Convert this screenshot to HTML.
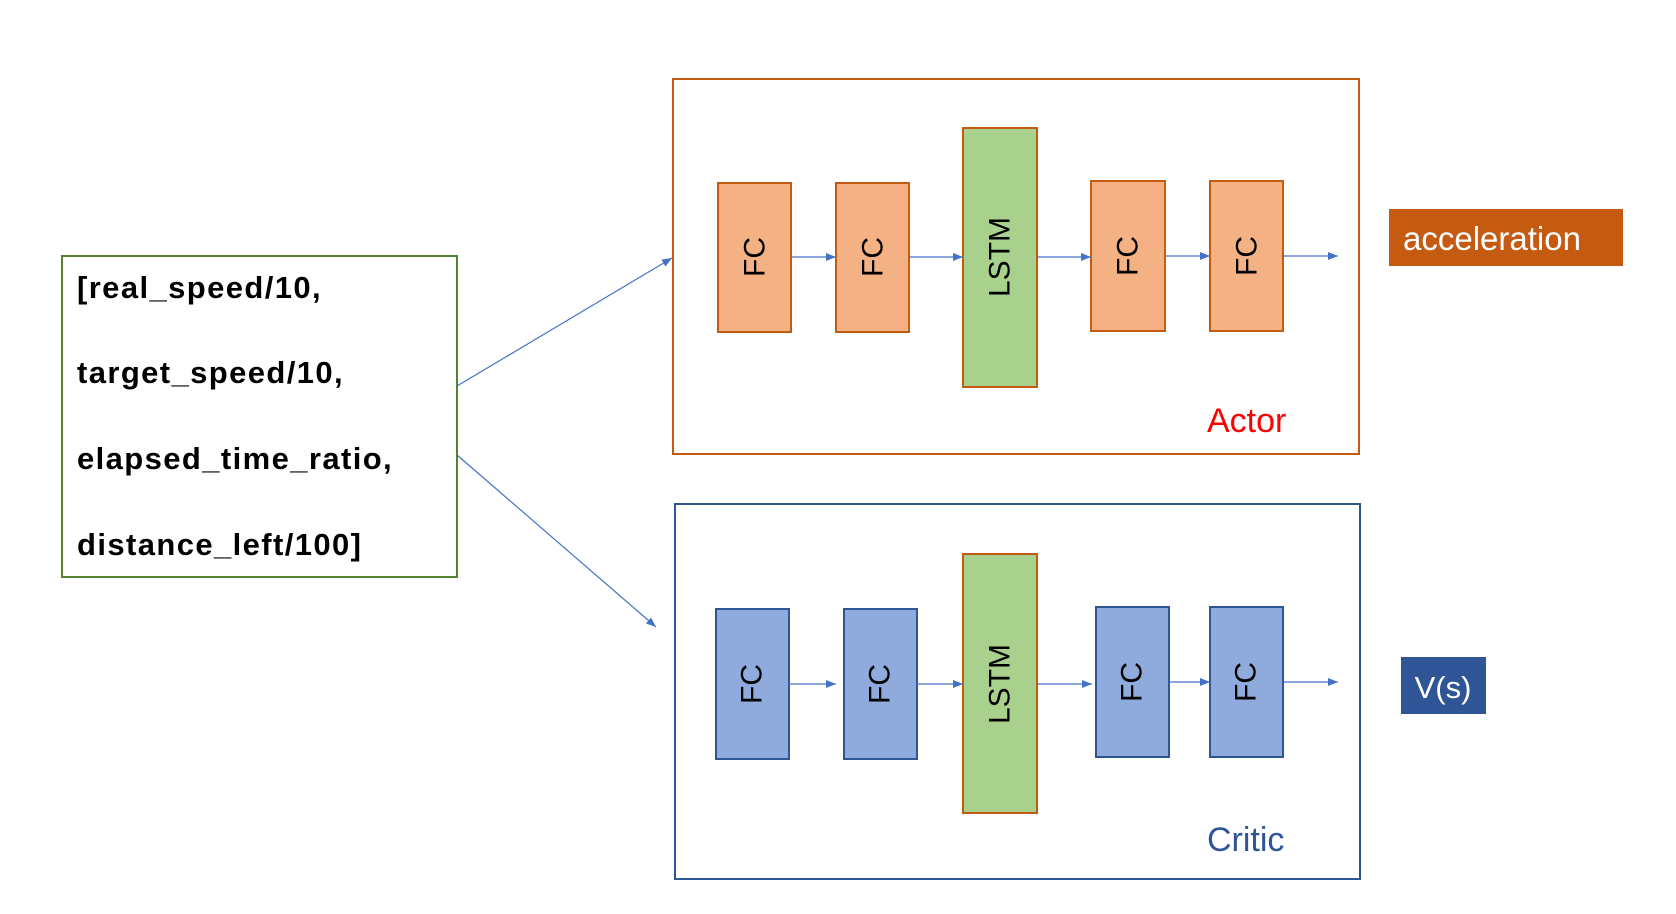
<!DOCTYPE html>
<html><head><meta charset="utf-8"><style>
html,body{margin:0;padding:0;background:#fff;}
svg{display:block;}
text{font-family:"Liberation Sans",sans-serif;}
</style></head><body>
<svg width="1676" height="914" viewBox="0 0 1676 914" xmlns="http://www.w3.org/2000/svg">
<defs>
<marker id="ar" markerWidth="10" markerHeight="8" refX="10" refY="4" orient="auto" markerUnits="userSpaceOnUse">
<path d="M0,0 L10,4 L0,8 Z" fill="#4472C4"/>
</marker>
</defs>
<!-- input box -->
<rect x="62" y="256" width="395" height="321" fill="#fff" stroke="#548235" stroke-width="2"/>
<g font-size="31" font-weight="bold" fill="#000" letter-spacing="1.4">
<text x="77" y="298">[real_speed/10,</text>
<text x="77" y="383">target_speed/10,</text>
<text x="77" y="469">elapsed_time_ratio,</text>
<text x="77" y="555">distance_left/100]</text>
</g>
<line x1="457" y1="386" x2="672" y2="258" stroke="#4472C4" stroke-width="1.2" marker-end="url(#ar)"/>
<line x1="457" y1="455" x2="656" y2="627" stroke="#4472C4" stroke-width="1.2" marker-end="url(#ar)"/>

<!-- Actor -->
<rect x="673" y="79" width="686" height="375" fill="none" stroke="#C55A11" stroke-width="2"/>
<g fill="#F4B183" stroke="#C55A11" stroke-width="2">
<rect x="718" y="183" width="73" height="149"/>
<rect x="836" y="183" width="73" height="149"/>
<rect x="1091" y="181" width="74" height="150"/>
<rect x="1210" y="181" width="73" height="150"/>
</g>
<rect x="963" y="128" width="74" height="259" fill="#A9D18E" stroke="#C55A11" stroke-width="2"/>
<g stroke="#4472C4" stroke-width="1.3">
<line x1="791" y1="257" x2="836" y2="257" marker-end="url(#ar)"/>
<line x1="909" y1="257" x2="963" y2="257" marker-end="url(#ar)"/>
<line x1="1037" y1="257" x2="1091" y2="257" marker-end="url(#ar)"/>
<line x1="1165" y1="256" x2="1210" y2="256" marker-end="url(#ar)"/>
<line x1="1283" y1="256" x2="1338" y2="256" marker-end="url(#ar)"/>
</g>
<g font-size="30" fill="#000" text-anchor="middle" dominant-baseline="central">
<text transform="translate(755,257) rotate(-90)">FC</text>
<text transform="translate(873,257) rotate(-90)">FC</text>
<text transform="translate(1000,257) rotate(-90)">LSTM</text>
<text transform="translate(1128,256) rotate(-90)">FC</text>
<text transform="translate(1247,256) rotate(-90)">FC</text>
</g>
<text x="1207" y="432" font-size="34" fill="#FF0000">Actor</text>

<!-- Critic -->
<rect x="675" y="504" width="685" height="375" fill="none" stroke="#2F5597" stroke-width="2"/>
<g fill="#8FAADC" stroke="#2F5597" stroke-width="2">
<rect x="716" y="609" width="73" height="150"/>
<rect x="844" y="609" width="73" height="150"/>
<rect x="1096" y="607" width="73" height="150"/>
<rect x="1210" y="607" width="73" height="150"/>
</g>
<rect x="963" y="554" width="74" height="259" fill="#A9D18E" stroke="#C55A11" stroke-width="2"/>
<g stroke="#4472C4" stroke-width="1.3">
<line x1="789" y1="684" x2="836" y2="684" marker-end="url(#ar)"/>
<line x1="917" y1="684" x2="963" y2="684" marker-end="url(#ar)"/>
<line x1="1037" y1="684" x2="1092" y2="684" marker-end="url(#ar)"/>
<line x1="1169" y1="682" x2="1210" y2="682" marker-end="url(#ar)"/>
<line x1="1283" y1="682" x2="1338" y2="682" marker-end="url(#ar)"/>
</g>
<g font-size="30" fill="#000" text-anchor="middle" dominant-baseline="central">
<text transform="translate(752,684) rotate(-90)">FC</text>
<text transform="translate(880,684) rotate(-90)">FC</text>
<text transform="translate(1000,684) rotate(-90)">LSTM</text>
<text transform="translate(1132,682) rotate(-90)">FC</text>
<text transform="translate(1246,682) rotate(-90)">FC</text>
</g>
<text x="1207" y="851" font-size="34" fill="#2F5597">Critic</text>

<!-- outputs -->
<rect x="1389" y="209" width="234" height="57" fill="#C55A11"/>
<text x="1403" y="250" font-size="33" fill="#fff">acceleration</text>
<rect x="1401" y="657" width="85" height="57" fill="#2F5597"/>
<text x="1443" y="698" font-size="31" fill="#fff" text-anchor="middle">V(s)</text>
</svg>
</body></html>
